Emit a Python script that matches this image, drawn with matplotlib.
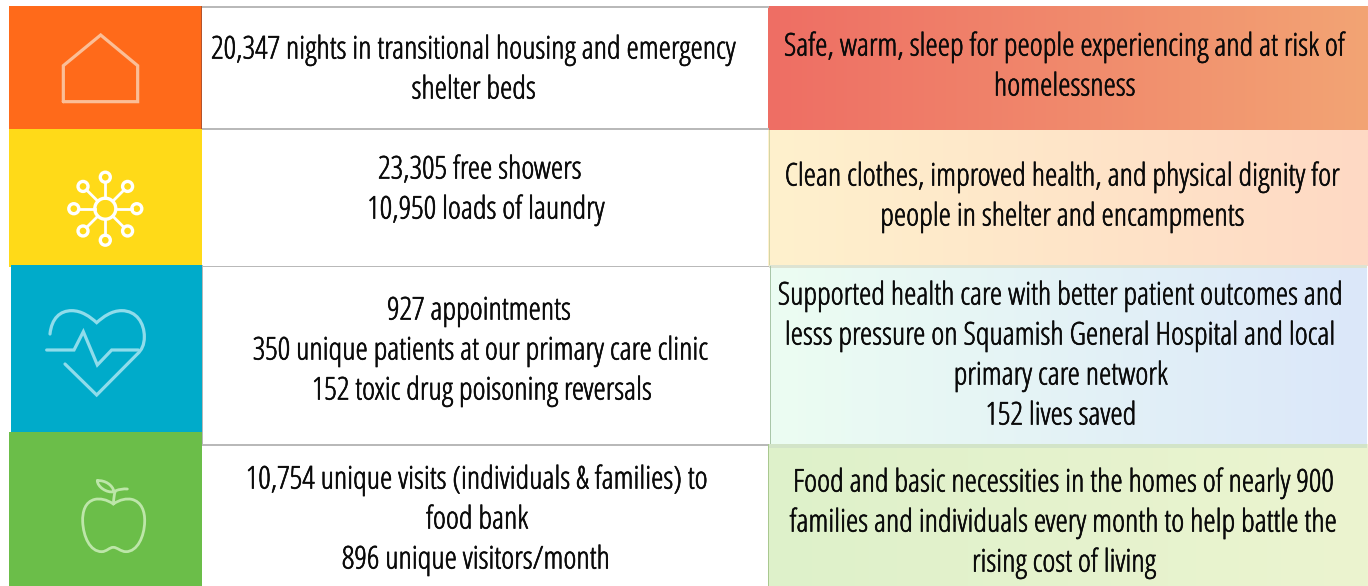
import numpy as np
import matplotlib
matplotlib.use("Agg")
import matplotlib.pyplot as plt
from matplotlib import font_manager as fm
from matplotlib import patheffects as pe
from matplotlib.patches import Rectangle, Circle, PathPatch
from matplotlib.path import Path

W, H = 1368, 586

outputs = [
    ["20,347 nights in transitional housing and emergency", "shelter beds"],
    ["23,305 free showers", "10,950 loads of laundry"],
    ["927 appointments", "350 unique patients at our primary care clinic", "152 toxic drug poisoning reversals"],
    ["10,754 unique visits (individuals & families) to", "food bank", "896 unique visitors/month"],
]
outcomes = [
    ["Safe, warm, sleep for people experiencing and at risk of", "homelessness"],
    ["Clean clothes, improved health, and physical dignity for", "people in shelter and encampments"],
    ["Supported health care with better patient outcomes and", "lesss pressure on Squamish General Hospital and local",
     "primary care network", "152 lives saved"],
    ["Food and basic necessities in the homes of nearly 900", "families and individuals every month to help battle the",
     "rising cost of living"],
]

fig = plt.figure(figsize=(W / 100, H / 100), dpi=100, facecolor="white")
ax = fig.add_axes([0, 0, 1, 1])
ax.set_xlim(0, W)
ax.set_ylim(H, 0)
ax.axis("off")

def rect(x0, y0, x1, y1, c, z=1):
    ax.add_patch(Rectangle((x0, y0), x1 - x0, y1 - y0, fc=c, ec="none", zorder=z))

def grad(x0, y0, x1, y1, a, b):
    t = np.linspace(0, 1, 256)[None, :, None]
    img = (np.array(a)[None, None, :] * (1 - t) + np.array(b)[None, None, :] * t) / 255
    ax.imshow(img, extent=(x0, x1, y1, y0), aspect="auto", zorder=1, interpolation="bilinear")
    ax.set_xlim(0, W)
    ax.set_ylim(H, 0)

# colour blocks
rect(9, 6, 201, 129, "#FF6A1A", 2)
rect(9, 129, 202, 267, "#FFDA18", 2)
rect(11, 265, 202, 432, "#00ABCA", 3)
rect(9, 432, 202, 586, "#6BBE49", 4)
rect(200.5, 6, 201.5, 129, "#B5532A", 5)
rect(201.5, 265, 202.5, 445, "#B8B8B8", 5)

# middle column rules
for y0, x1 in [(6, 769), (128, 769), (265.5, 769), (444, 769)]:
    rect(202, y0, x1, y0 + 1.6, "#B9B9B9", 2)

# gradient outcome cells
grad(768, 6, 1368, 130, (238, 110, 100), (243, 164, 116))
grad(768, 130, 1368, 266, (255, 241, 205), (254, 217, 196))
grad(770, 268, 1367, 444, (236, 253, 242), (219, 231, 250))
grad(768, 444, 1368, 586, (222, 241, 202), (236, 244, 208))
rect(769, 265, 1367, 268, "#DDE3D2", 2)
rect(769, 444, 1367, 448, "#D2E4C8", 2)
rect(768.5, 130, 769.5, 265, "#D5D5A5", 3)
rect(769.5, 266, 770.5, 444, "#A9C6A9", 3)
rect(767.5, 444, 768.5, 586, "#A9C88F", 3)

# icons
def line(pts, c, lw=2.2, closed=False):
    pts = list(pts)
    if closed:
        pts.append(pts[0])
    xs, ys = zip(*pts)
    ax.plot(xs, ys, color=c, lw=lw, solid_joinstyle="miter", solid_capstyle="round", zorder=8)

def curve(verts, codes, c, lw=2.0):
    ax.add_patch(PathPatch(Path(verts, codes), fc="none", ec=c, lw=lw, zorder=8, capstyle="round"))

def z2(x, y, oy=0):
    return (x / 3, oy + y / 3)

# house
line([z2(190, 305), z2(190, 197), z2(302, 105), z2(413, 197), z2(413, 305)], "#FBBE97", 2.3, True)

# network
cx, cy = 105.3, 208.7
ax.add_patch(Circle((cx, cy), 10.5, fc="none", ec="white", lw=2.4, zorder=8))
for k in range(8):
    a = k * np.pi / 4
    ux, uy = np.cos(a), np.sin(a)
    ax.plot([cx + 10.5 * ux, cx + 26.5 * ux], [cy + 10.5 * uy, cy + 26.5 * uy], color="white", lw=2, zorder=8)
    ax.add_patch(Circle((cx + 31.5 * ux, cy + 31.5 * uy), 5, fc="none", ec="white", lw=2.4, zorder=8))

# heart
C = Path.CURVE4
M = Path.MOVETO
L = Path.LINETO
hc = "#8FDCEB"
P = lambda x, y: z2(x, y, 290)
curve([P(150, 132), P(155, 85), P(180, 62), P(215, 62),
       P(245, 62), P(270, 80), P(290, 98),
       P(310, 80), P(335, 62), P(365, 62),
       P(410, 62), P(433, 100), P(433, 140),
       P(433, 165), P(425, 180), P(412, 192),
       P(290, 315), P(195, 222)],
      [M, C, C, C, C, C, C, C, C, C, C, C, C, C, C, C, L, L], hc, 2.3)
line([P(140, 180), P(222, 180), P(250, 125), P(292, 225), P(335, 180), P(415, 180)], hc, 2.3)

# apple
ac = "#BDE6A9"
curve([P(340, 642), P(320, 628), P(300, 625), P(285, 628),
       P(255, 635), P(247, 665), P(248, 695),
       P(250, 740), P(270, 785), P(305, 785),
       P(320, 785), P(328, 772), P(340, 772),
       P(352, 772), P(362, 785), P(378, 785),
       P(412, 785), P(433, 740), P(434, 695),
       P(435, 665), P(425, 635), P(395, 628),
       P(380, 625), P(360, 628), P(340, 642)],
      [M] + [C] * 24, ac, 2.0)
curve([P(340, 642), P(342, 620), P(343, 605), P(348, 602),
       P(358, 598), P(370, 596), P(382, 597)],
      [M, C, C, C, C, C, C], ac, 2.0)
curve([P(292, 572), P(292, 590), P(320, 610), P(342, 605),
       P(338, 585), P(315, 570), P(292, 572)],
      [M, C, C, C, C, C, C], ac, 2.0)

# text layout: size fitted so the longest middle line spans the reference's 526 px
FP = fm.FontProperties(family="Open Sans", weight=400, stretch="condensed", style="normal", size=20)
probe = ax.text(0, 0, outputs[0][0], fontproperties=FP)
fig.canvas.draw()
wpx = probe.get_window_extent().width
probe.remove()
FP.set_size(20 * 526 / wpx)

mid_y = [46.5, 166.5, 307.5, 476.5]
mid_cx = [[474, 474], [480, 486], [479, 481, 482], [477, 477, 476]]
right_cx = [1065, 1063, 1061, 1064]
right_y = [43.5, 173.5, 292.5, 479.5]
LS = 40
THICKEN = [pe.withStroke(linewidth=0.45, foreground="#0A0A0A")]

for r, lines in enumerate(outputs):
    for i, s in enumerate(lines):
        ax.text(mid_cx[r][i], mid_y[r] + i * LS, s, ha="center", va="center_baseline",
                fontproperties=FP, color="#0A0A0A", zorder=10, path_effects=THICKEN)
for r, lines in enumerate(outcomes):
    for i, s in enumerate(lines):
        ax.text(right_cx[r], right_y[r] + i * LS, s, ha="center", va="center_baseline",
                fontproperties=FP, color="#0A0A0A", zorder=10, path_effects=THICKEN)

fig.savefig("out.png", dpi=100, facecolor="white")
